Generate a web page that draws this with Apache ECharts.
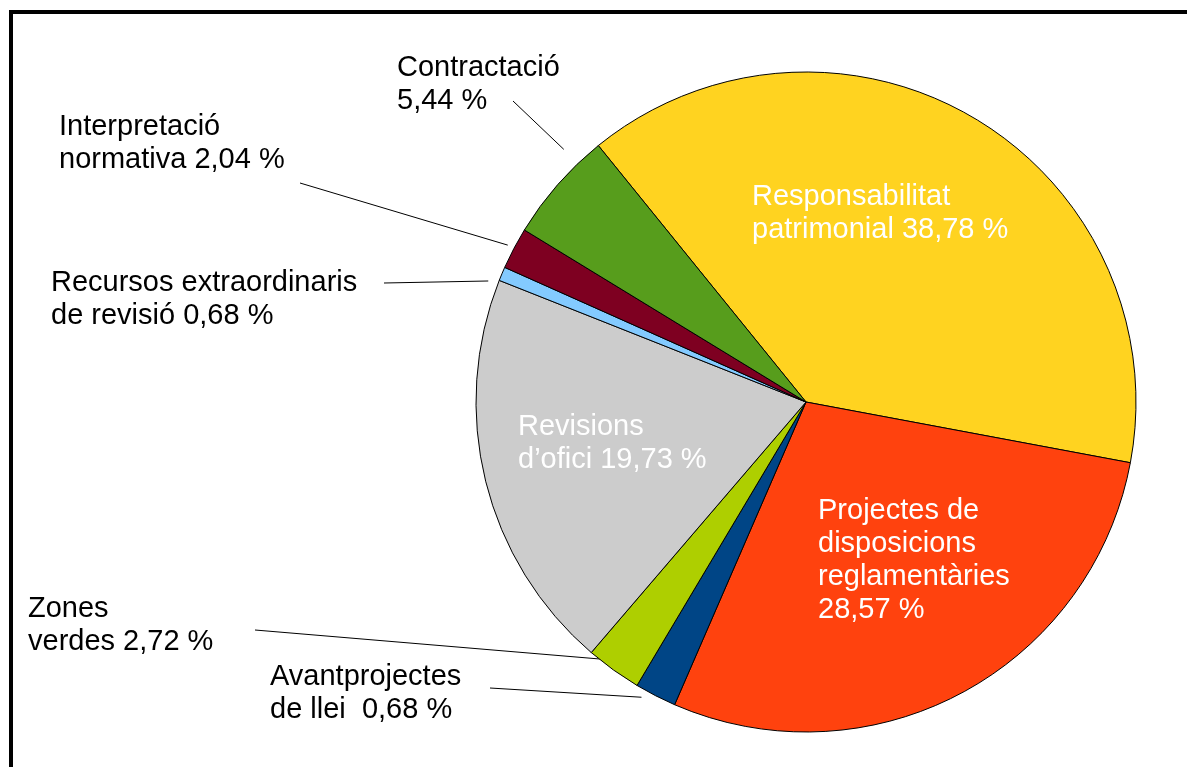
<!doctype html>
<html>
<head>
    <meta charset="utf-8">
    <title>Dictàmens per matèria</title>
    <!-- ECharts -->
    <script src="https://cdn.jsdelivr.net/npm/echarts@6/dist/echarts.min.js"></script>
    <style>
        html, body { margin: 0; padding: 0; background: #fff; }
        #main { width: 1187px; height: 767px; }
    </style>
</head>
<body>
    <div id="main"></div>
<script type="text/javascript">
    // categories (clockwise, from the yellow slice)
    var categories = ['Responsabilitat patrimonial', 'Projectes de disposicions reglamentàries',
        'Avantprojectes de llei', 'Zones verdes', 'Revisions d’ofici',
        'Recursos extraordinaris de revisió', 'Interpretació normativa', 'Contractació'];
    // slice sizes (%)
    var values = [38.78, 28.57, 2.04, 2.72, 19.73, 0.68, 2.04, 5.44];
    // label texts as printed in the picture
    var labelText = [
        'Responsabilitat\npatrimonial 38,78 %',
        'Projectes de\ndisposicions\nreglamentàries\n28,57 %',
        'Avantprojectes\nde llei  0,68 %',
        'Zones\nverdes 2,72 %',
        'Revisions\nd’ofici 19,73 %',
        'Recursos extraordinaris\nde revisió 0,68 %',
        'Interpretació\nnormativa 2,04 %',
        'Contractació\n5,44 %'
    ];
    var inside = [true, true, false, false, true, false, false, false];
    var colors = ['#ffd320', '#ff420e', '#004586', '#aecf00', '#cccccc', '#83caff', '#7e0021', '#579d1c'];

    // label layout (top-left of each text block)
    var labelPos = [[752, 180], [818, 494], [270, 660], [28, 592], [518, 410], [51, 266], [59, 110], [397, 51]];
    // label-side end of the leader lines; radial gap and angular shift (deg, clockwise) at the pie side
    var lineStart = [null, null, [490, 688], [255, 630], null, [384, 283], [300, 183], [513, 101]];
    var lineGap = [0, 0, 8, -8, 0, 10, 7, 20];
    var lineTurn = [0, 0, 2, 1, 0, -2, 0, 5];

    var myChart = echarts.init(document.getElementById('main'));

    var pieData = [];
    for (var i = 0; i < categories.length; i++) {
        pieData.push({
            name: categories[i],
            value: values[i],
            itemStyle: { color: colors[i] },
            label: {
                position: inside[i] ? 'inside' : 'outside',
                color: inside[i] ? '#ffffff' : '#000000'
            },
            labelLine: { show: !inside[i] }
        });
    }

    var R = 330;
    var option = {
        animation: false,
        backgroundColor: '#ffffff',
        graphic: [{
            type: 'rect',
            shape: { x: 11, y: 12, width: 1400, height: 1000 },
            style: { fill: null, stroke: '#000', lineWidth: 4 },
            z: 100
        }],
        series: [{
            type: 'pie',
            center: [806, 402],
            radius: R,
            startAngle: 129,
            clockwise: true,
            avoidLabelOverlap: false,
            silent: true,
            itemStyle: { borderColor: '#000', borderWidth: 1 },
            label: {
                fontFamily: 'Liberation Sans, Arial, sans-serif',
                fontSize: 29,
                lineHeight: 33,
                align: 'left',
                formatter: function (p) { return labelText[p.dataIndex]; }
            },
            labelLine: {
                length: 10,
                length2: 10,
                lineStyle: { color: '#000', width: 1 }
            },
            labelLayout: function (params) {
                var i = params.dataIndex;
                var res = { x: labelPos[i][0], y: labelPos[i][1], align: 'left', verticalAlign: 'top' };
                if (lineStart[i] && params.labelLinePoints) {
                    var p0 = params.labelLinePoints[0], p1 = params.labelLinePoints[1];
                    var dx = p1[0] - p0[0], dy = p1[1] - p0[1];
                    var len = Math.sqrt(dx * dx + dy * dy) || 1;
                    dx /= len; dy /= len;
                    // pie centre recovered from the anchor on the rim
                    var cx = p0[0] - dx * R, cy = p0[1] - dy * R;
                    var t = lineTurn[i] * Math.PI / 180;
                    var rx = dx * Math.cos(t) - dy * Math.sin(t);
                    var ry = dx * Math.sin(t) + dy * Math.cos(t);
                    var end = [cx + rx * (R + lineGap[i]), cy + ry * (R + lineGap[i])];
                    res.labelLinePoints = [end, end, lineStart[i]];
                }
                return res;
            },
            data: pieData
        }]
    };

    myChart.setOption(option);
</script>
</body>
</html>
